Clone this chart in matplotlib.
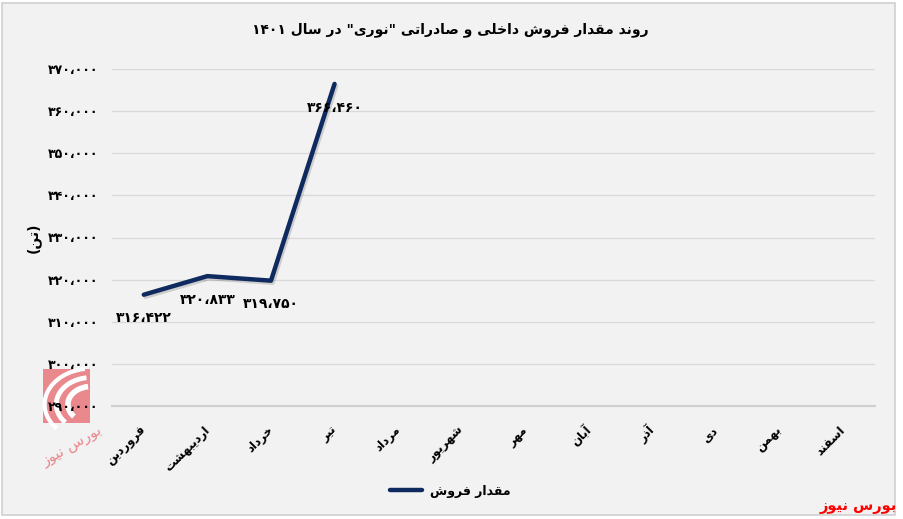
import re
import matplotlib
matplotlib.use("Agg")
import matplotlib.pyplot as plt
import matplotlib.patheffects as pe
from matplotlib.patches import Rectangle, Arc
from matplotlib.lines import Line2D
from matplotlib.ticker import FuncFormatter, MultipleLocator
from matplotlib.font_manager import findfont, FontProperties
from matplotlib.ft2font import FT2Font

# ---------------- data ----------------
title_text = 'روند مقدار فروش داخلی و صادراتی "نوری" در سال ۱۴۰۱'
months = ['فروردین', 'اردیبهشت', 'خرداد', 'تیر', 'مرداد', 'شهریور',
          'مهر', 'آبان', 'آذر', 'دی', 'بهمن', 'اسفند']
sales = [316422, 320833, 319750, 366460]
series_name = 'مقدار فروش'
unit_label = '(تن)'
brand = 'بورس نیوز'
y_min, y_max, y_step = 290000, 370000, 10000

# ------------- minimal Persian shaping (presentation forms + RTL order) -------------
FORMS = {
    'ا': (0xFE8D, 0xFE8E, None, None), 'آ': (0xFE81, 0xFE82, None, None),
    'ب': (0xFE8F, 0xFE90, 0xFE91, 0xFE92), 'ت': (0xFE95, 0xFE96, 0xFE97, 0xFE98),
    'خ': (0xFEA5, 0xFEA6, 0xFEA7, 0xFEA8), 'د': (0xFEA9, 0xFEAA, None, None),
    'ذ': (0xFEAB, 0xFEAC, None, None), 'ر': (0xFEAD, 0xFEAE, None, None),
    'ز': (0xFEAF, 0xFEB0, None, None), 'س': (0xFEB1, 0xFEB2, 0xFEB3, 0xFEB4),
    'ش': (0xFEB5, 0xFEB6, 0xFEB7, 0xFEB8), 'ص': (0xFEB9, 0xFEBA, 0xFEBB, 0xFEBC),
    'ف': (0xFED1, 0xFED2, 0xFED3, 0xFED4), 'ق': (0xFED5, 0xFED6, 0xFED7, 0xFED8),
    'ل': (0xFEDD, 0xFEDE, 0xFEDF, 0xFEE0), 'م': (0xFEE1, 0xFEE2, 0xFEE3, 0xFEE4),
    'ن': (0xFEE5, 0xFEE6, 0xFEE7, 0xFEE8), 'ه': (0xFEE9, 0xFEEA, 0xFEEB, 0xFEEC),
    'و': (0xFEED, 0xFEEE, None, None), 'ی': (0xFBFC, 0xFBFD, 0xFBFE, 0xFBFF),
}
_font = FT2Font(findfont(FontProperties(family='DejaVu Sans', weight='bold')))
if _font.get_char_index(0xFBFC) == 0:
    FORMS['ی'] = (0xFEEF, 0xFEF0, 0xFEF3, 0xFEF4)


def fa(text):
    chars = list(text)
    out = []
    for i, c in enumerate(chars):
        if c not in FORMS:
            out.append(c)
            continue
        prev = chars[i - 1] if i > 0 else None
        nxt = chars[i + 1] if i + 1 < len(chars) else None
        f = FORMS[c]
        jp = prev in FORMS and FORMS[prev][2] is not None
        jn = f[2] is not None and nxt in FORMS
        if jp and jn:
            g = f[3]
        elif jp:
            g = f[1]
        elif jn:
            g = f[2]
        else:
            g = f[0]
        out.append(chr(g))
    s = ''.join(out)
    tokens = re.split(r'([0-9\u06F0-\u06F9\u060C]+)', s)
    vis = []
    for t in reversed(tokens):
        if re.fullmatch(r'[0-9\u06F0-\u06F9\u060C]+', t or 'x'):
            vis.append(t)
        else:
            r = t[::-1]
            r = r.translate(str.maketrans({'(': ')', ')': '('}))
            vis.append(r)
    return ''.join(vis)


def fa_num(v):
    s = f"{int(round(v)):,}"
    s = s.translate(str.maketrans('0123456789,', '۰۱۲۳۴۵۶۷۸۹،'))
    return s


plt.rcParams['font.family'] = ['DejaVu Sans']
plt.rcParams['font.weight'] = 'bold'

W, H = 904, 519
fig = plt.figure(figsize=(W / 100, H / 100), dpi=100)
fig.patch.set_facecolor('white')

# chart area background box
fig.patches.append(Rectangle((2 / W, (H - 515) / H), 893 / W, 512 / H,
                             transform=fig.transFigure, facecolor='#f2f2f2',
                             edgecolor='#d0d0d0', linewidth=1.2, zorder=-5))

# logo watermark (decoration)
fig.patches.append(Rectangle((43 / W, (H - 423) / H), 47 / W, 54 / H,
                             transform=fig.transFigure, facecolor='#e9898e',
                             edgecolor='none', zorder=-4))
lax = fig.add_axes([40 / W, (H - 430) / H, 64 / W, 64 / H], zorder=-3)
lax.set_xlim(0, 1)
lax.set_ylim(0, 1)
lax.axis('off')
for r, lw in [(0.28, 4), (0.42, 3.5), (0.56, 3)]:
    lax.add_patch(Arc((0.80, 0.40), 2 * r * 1.3, 2 * r, theta1=100, theta2=215,
                      color='white', lw=lw))
fig.text(72 / W, 1 - 446 / H, fa(brand), color='#e9898e', fontsize=11,
         rotation=30, ha='center', va='center', fontweight='normal', zorder=-3)

ax = fig.add_axes([112 / W, (H - 406) / H, (875 - 112) / W, (406 - 69) / H])
ax.set_facecolor('none')

x = list(range(len(sales)))
ax.plot(x, sales, color='#0f2a5f', linewidth=3.2, solid_capstyle='round',
        solid_joinstyle='round', zorder=3,
        path_effects=[pe.SimpleLineShadow(offset=(1.2, -1.5), alpha=0.15),
                      pe.Normal()])

for xi, v in zip(x, sales):
    ax.annotate(fa_num(v), (xi, v), xytext=(0, -17), textcoords='offset points',
                ha='center', va='center', fontsize=10, fontweight='bold',
                color='black', zorder=4)

ax.set_xlim(-0.5, len(months) - 0.5)
ax.set_ylim(y_min, y_max)
ax.yaxis.set_major_locator(MultipleLocator(y_step))
ax.yaxis.set_major_formatter(FuncFormatter(lambda v, p: fa_num(v)))
ax.set_xticks(range(len(months)))
ax.set_xticklabels([fa(m) for m in months], rotation=45, ha='right',
                   va='center', rotation_mode='anchor', fontsize=8.5,
                   fontweight='bold')
ax.tick_params(axis='x', length=0, pad=16)
ax.tick_params(axis='y', length=0, pad=10, labelsize=9)
for lab in ax.get_yticklabels():
    lab.set_fontweight('bold')

ax.grid(axis='y', color='#d9d9d9', linewidth=0.9)
ax.set_axisbelow(True)
for s in ['top', 'right', 'left']:
    ax.spines[s].set_visible(False)
ax.spines['bottom'].set_color('#d0d0d0')
ax.spines['bottom'].set_linewidth(1.6)

ax.set_ylabel(fa(unit_label), fontsize=10, fontweight='bold', labelpad=5)

fig.text(450 / W, 1 - 30 / H, fa(title_text), ha='center', va='center',
         fontsize=10, fontweight='bold')

handle = Line2D([], [], color='#0f2a5f', linewidth=3.2, solid_capstyle='round')
fig.legend([handle], [fa(series_name)], loc='center',
           bbox_to_anchor=(450 / W, 1 - 491 / H), frameon=False,
           handlelength=2.6, handletextpad=0.6,
           prop={'weight': 'bold', 'size': 9})

fig.text(897 / W, 1 - 506 / H, fa(brand), ha='right', va='center',
         fontsize=10.5, fontweight='bold', color='#ff0000')

fig.savefig('out.png', dpi=100)
